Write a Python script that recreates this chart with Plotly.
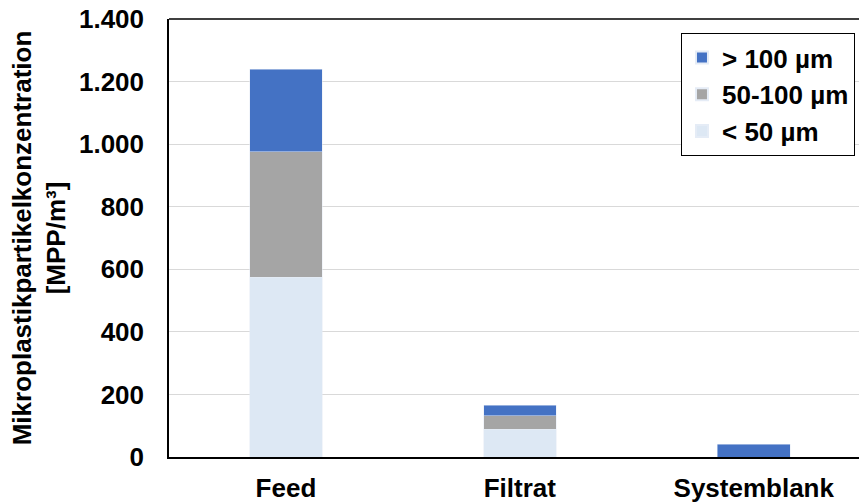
import plotly.graph_objects as go

# data
categories = ["Feed", "Filtrat", "Systemblank"]
below_50 = [575, 88, 0]
between_50_100 = [400, 44, 0]
above_100 = [265, 34, 40]
y_ticks = [0, 200, 400, 600, 800, 1000, 1200, 1400]

font_family = "Liberation Sans, Arial, sans-serif"
bold = dict(family=font_family, size=26, color="black", weight="bold")

fig = go.Figure()
fig.add_trace(go.Bar(x=categories, y=below_50, name="< 50 µm", marker_color="#DDE8F4", width=0.31))
fig.add_trace(go.Bar(x=categories, y=between_50_100, name="50-100 µm", marker_color="#A5A5A5", width=0.31))
fig.add_trace(go.Bar(x=categories, y=above_100, name="> 100 µm", marker_color="#4472C4", width=0.31))

fig.update_layout(
    width=859,
    height=502,
    margin=dict(l=169, r=0, t=19, b=45),
    barmode="stack",
    plot_bgcolor="white",
    paper_bgcolor="white",
    separators=",.",
    font=bold,
    legend=dict(
        traceorder="reversed",
        x=0.742, y=0.968, xanchor="left", yanchor="top",
        bordercolor="black", borderwidth=1, bgcolor="white",
        font=dict(family=font_family, size=26, color="black", weight="bold"),
        itemsizing="constant",
        itemwidth=30,
        tracegroupgap=0,
    ),
    xaxis=dict(
        range=[-0.5, 2.45],
        automargin=False,
        showline=True, linecolor="black", linewidth=1.5,
        ticks="", tickfont=bold, ticklabelstandoff=7,
    ),
    yaxis=dict(
        range=[0, 1400],
        automargin=False,
        tickvals=y_ticks,
        separatethousands=True,
        showline=True, linecolor="black", linewidth=1.5,
        showgrid=True, gridcolor="#D9D9D9", gridwidth=1,
        zeroline=False,
        ticks="", tickfont=bold, ticklabelstandoff=18,
        title=dict(text="Mikroplastikpartikelkonzentration<br>[MPP/m³]",
                   font=dict(family=font_family, size=26, color="black", weight="bold"),
                   standoff=6),
    ),
)
# top border of the plot frame (right side is cut off in the reference)
fig.add_shape(type="line", xref="paper", yref="paper", x0=0, x1=1, y0=1, y1=1,
              line=dict(color="black", width=1.5))

# drop the browser's default body margin so the figure sits at the window's corner
fig.write_html("out.html", config={"displayModeBar": False},
               post_script="document.body.style.margin='0';")
